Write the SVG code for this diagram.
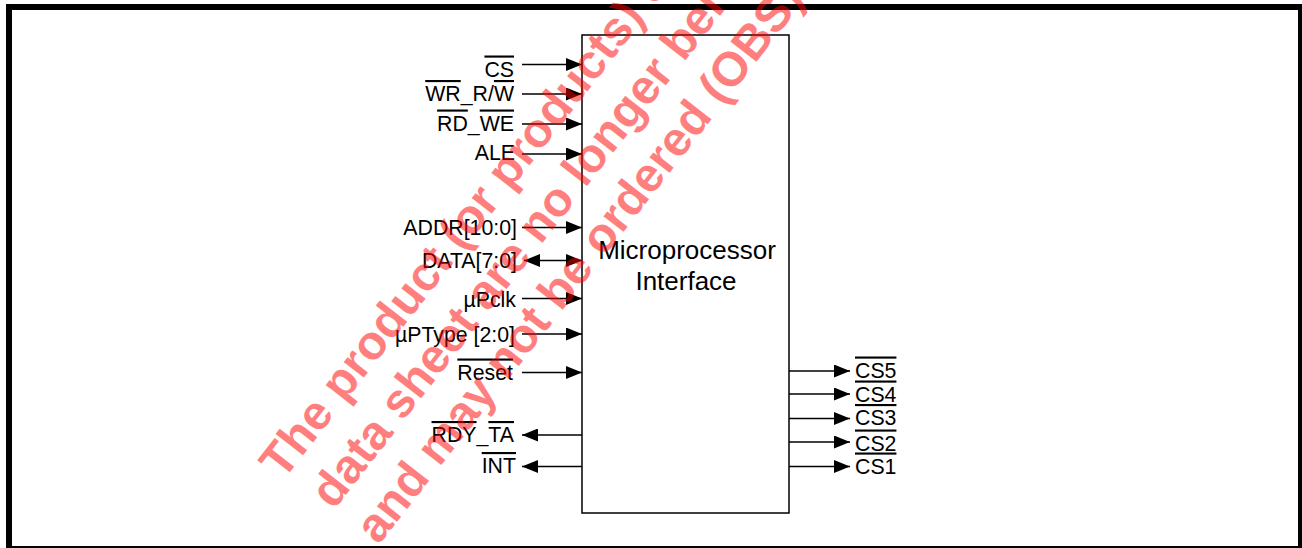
<svg xmlns="http://www.w3.org/2000/svg" width="1302" height="548" viewBox="0 0 1302 548">
<style>
.lbl{font-family:"Liberation Sans",Arial,sans-serif;font-size:21.3px;fill:#000;}
.end{text-anchor:end;}
.ov{text-decoration:overline;}
.title{font-family:"Liberation Sans",Arial,sans-serif;font-size:26px;fill:#000;text-anchor:middle;}
.wire{stroke:#000;stroke-width:1.5;fill:none;}
.wm{font-family:"Liberation Sans",Arial,sans-serif;font-weight:bold;font-size:48px;fill:#ff0000;}
</style>
<defs>
<marker id="ah" viewBox="0 0 16 13" refX="16" refY="6.5" markerWidth="16" markerHeight="13" markerUnits="userSpaceOnUse" orient="auto-start-reverse">
<path d="M0,0 L16,6.5 L0,13 z" fill="#000"/>
</marker>
</defs>
<rect x="0" y="0" width="1302" height="548" fill="#fff"/>
<rect id="frame" x="9" y="7" width="1292" height="542" fill="none" stroke="#000" stroke-width="6"/>

<g id="block">
<rect x="582" y="35" width="207" height="478" fill="#fff" stroke="#000" stroke-width="1.5"/>
<text class="title" x="687" y="259">Microprocessor</text>
<text class="title" x="686" y="290">Interface</text>
</g>

<g id="connectors">
<line class="wire" x1="522" y1="64.5" x2="582" y2="64.5" marker-end="url(#ah)"/>
<line class="wire" x1="522" y1="94" x2="582" y2="94" marker-end="url(#ah)"/>
<line class="wire" x1="522" y1="124" x2="582" y2="124" marker-end="url(#ah)"/>
<line class="wire" x1="522" y1="154" x2="582" y2="154" marker-end="url(#ah)"/>
<line class="wire" x1="522" y1="227.5" x2="582" y2="227.5" marker-end="url(#ah)"/>
<line class="wire" x1="524" y1="260.5" x2="582" y2="260.5" marker-start="url(#ah)" marker-end="url(#ah)"/>
<line class="wire" x1="522" y1="298.5" x2="582" y2="298.5" marker-end="url(#ah)"/>
<line class="wire" x1="522" y1="334" x2="582" y2="334" marker-end="url(#ah)"/>
<line class="wire" x1="522" y1="372.5" x2="582" y2="372.5" marker-end="url(#ah)"/>
<line class="wire" x1="582" y1="435" x2="522" y2="435" marker-end="url(#ah)"/>
<line class="wire" x1="582" y1="466.5" x2="522" y2="466.5" marker-end="url(#ah)"/>
<line class="wire" x1="789" y1="371" x2="850" y2="371" marker-end="url(#ah)"/>
<line class="wire" x1="789" y1="394" x2="850" y2="394" marker-end="url(#ah)"/>
<line class="wire" x1="789" y1="418.5" x2="850" y2="418.5" marker-end="url(#ah)"/>
<line class="wire" x1="789" y1="442" x2="850" y2="442" marker-end="url(#ah)"/>
<line class="wire" x1="789" y1="466.5" x2="850" y2="466.5" marker-end="url(#ah)"/>
</g>

<g id="sig-cs"><text class="lbl end" x="514" y="76.5"><tspan class="ov">CS</tspan></text></g>
<g id="sig-wr"><text class="lbl end" x="514" y="101"><tspan class="ov">WR</tspan>_R/<tspan class="ov">W</tspan></text></g>
<g id="sig-rd"><text class="lbl end" x="514" y="130.5"><tspan class="ov">RD</tspan>_<tspan class="ov">WE</tspan></text></g>
<g id="sig-ale"><text class="lbl end" x="515" y="160">ALE</text></g>
<g id="sig-addr"><text class="lbl end" x="517" y="235">ADDR[10:0]</text></g>
<g id="sig-data"><text class="lbl end" x="517" y="268">DATA[7:0]</text></g>
<g id="sig-upclk"><text class="lbl end" x="516" y="306.5">µPclk</text></g>
<g id="sig-uptype"><text class="lbl end" x="515" y="341.5">µPType [2:0]</text></g>
<g id="sig-reset"><text class="lbl end" x="513" y="379.5"><tspan class="ov">Reset</tspan></text></g>
<g id="sig-rdy"><text class="lbl end" x="514" y="442"><tspan class="ov">RDY</tspan>_<tspan class="ov">TA</tspan></text></g>
<g id="sig-int"><text class="lbl end" x="516" y="473"><tspan class="ov">INT</tspan></text></g>
<g id="sig-cs5"><text class="lbl" x="855" y="377.5"><tspan class="ov">CS5</tspan></text></g>
<g id="sig-cs4"><text class="lbl" x="855" y="401.5"><tspan class="ov">CS4</tspan></text></g>
<g id="sig-cs3"><text class="lbl" x="855" y="425"><tspan class="ov">CS3</tspan></text></g>
<g id="sig-cs2"><text class="lbl" x="855" y="450.5"><tspan class="ov">CS2</tspan></text></g>
<g id="sig-cs1"><text class="lbl" x="855" y="473.5"><tspan class="ov">CS1</tspan></text></g>

<g id="watermark" opacity="0.5" transform="translate(283,481) rotate(-52)">
<text class="wm" x="0" y="0">The product (or products) d</text>
<text class="wm" x="8" y="58">data sheet are no longer bei</text>
<text class="wm" x="8" y="115">and may not be ordered (OBS)</text>
</g>
</svg>
